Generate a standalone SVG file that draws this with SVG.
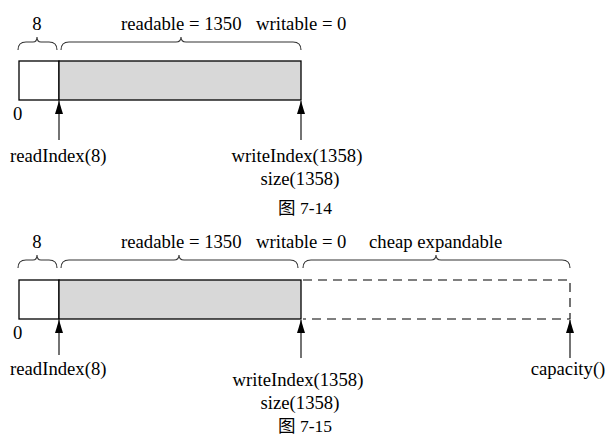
<svg xmlns="http://www.w3.org/2000/svg" width="612" height="439" viewBox="0 0 612 439">
<defs>
<marker id="ah" viewBox="0 0 13 8" refX="13" refY="4" markerWidth="13" markerHeight="8" markerUnits="userSpaceOnUse" orient="auto">
<path d="M0,0 L13,4 L0,8 Z" fill="#000"/>
</marker>
</defs>
<style>
text{font-family:"Liberation Serif","Times New Roman",Tinos,"DejaVu Serif","Noto Sans CJK SC",serif;font-size:18.7px;fill:#000}
.cap{font-size:17.5px}
.brace{fill:none;stroke:#333;stroke-width:1.1}
.box{stroke:#000;stroke-width:1.3}
.dash{fill:none;stroke:#000;stroke-width:1.1;stroke-dasharray:9,6}
.arr{stroke:#000;stroke-width:1.1;fill:none}
</style>
<rect width="612" height="439" fill="#fff"/>

<g id="fig1">
<g id="f1-labels">
<text x="37" y="30" text-anchor="middle">8</text>
<text x="121" y="30">readable = 1350</text>
<text x="256" y="30">writable = 0</text>
</g>
<g id="f1-braces">
<path class="brace" d="M18,50 Q18,42 26,42 L33,42 Q37,42 37,37 Q37,42 41,42 L49,42 Q57,42 57,50"/>
<path class="brace" d="M61,50 Q61,42 69,42 L176,42 Q181,42 181,37 Q181,42 186,42 L293,42 Q301,42 301,50"/>
</g>
<g id="f1-buffer">
<rect class="box" x="19" y="61" width="40" height="39" fill="#fff"/>
<rect class="box" x="59" y="61" width="242" height="39" fill="#d8d8d8"/>
</g>
<text x="13" y="120">0</text>
<g id="f1-connectors">
<line class="arr" x1="59" y1="140" x2="59" y2="101" marker-end="url(#ah)"/>
<line class="arr" x1="301" y1="140" x2="301" y2="101" marker-end="url(#ah)"/>
</g>
<text x="10" y="162">readIndex(8)</text>
<text x="297" y="162" text-anchor="middle">writeIndex(1358)</text>
<text x="300" y="185" text-anchor="middle">size(1358)</text>
<text class="cap" x="305" y="214" text-anchor="middle">图 7-14</text>
</g>

<g id="fig2">
<g id="f2-labels">
<text x="37" y="248" text-anchor="middle">8</text>
<text x="121" y="248">readable = 1350</text>
<text x="256" y="248">writable = 0</text>
<text x="369" y="248">cheap expandable</text>
</g>
<g id="f2-braces">
<path class="brace" d="M18,268 Q18,260 26,260 L33,260 Q37,260 37,255 Q37,260 41,260 L49,260 Q57,260 57,268"/>
<path class="brace" d="M61,268 Q61,260 69,260 L174,260 Q179,260 179,255 Q179,260 184,260 L290,260 Q298,260 298,268"/>
<path class="brace" d="M303,268 Q303,260 311,260 L431,260 Q436,260 436,255 Q436,260 441,260 L562,260 Q570,260 570,268"/>
</g>
<g id="f2-buffer">
<rect class="box" x="19" y="280" width="40" height="39" fill="#fff"/>
<rect class="box" x="59" y="280" width="242" height="39" fill="#d8d8d8"/>
<path class="dash" d="M303,280 L570,280 L570,319 L303,319"/>
</g>
<text x="13" y="339">0</text>
<g id="f2-connectors">
<line class="arr" x1="59" y1="355" x2="59" y2="320" marker-end="url(#ah)"/>
<line class="arr" x1="301" y1="358" x2="301" y2="320" marker-end="url(#ah)"/>
<line class="arr" x1="570" y1="358" x2="570" y2="320" marker-end="url(#ah)"/>
</g>
<text x="10" y="375">readIndex(8)</text>
<text x="298" y="386" text-anchor="middle">writeIndex(1358)</text>
<text x="300" y="409" text-anchor="middle">size(1358)</text>
<text x="568" y="375" text-anchor="middle">capacity()</text>
<text class="cap" x="305" y="432" text-anchor="middle">图 7-15</text>
</g>
</svg>
